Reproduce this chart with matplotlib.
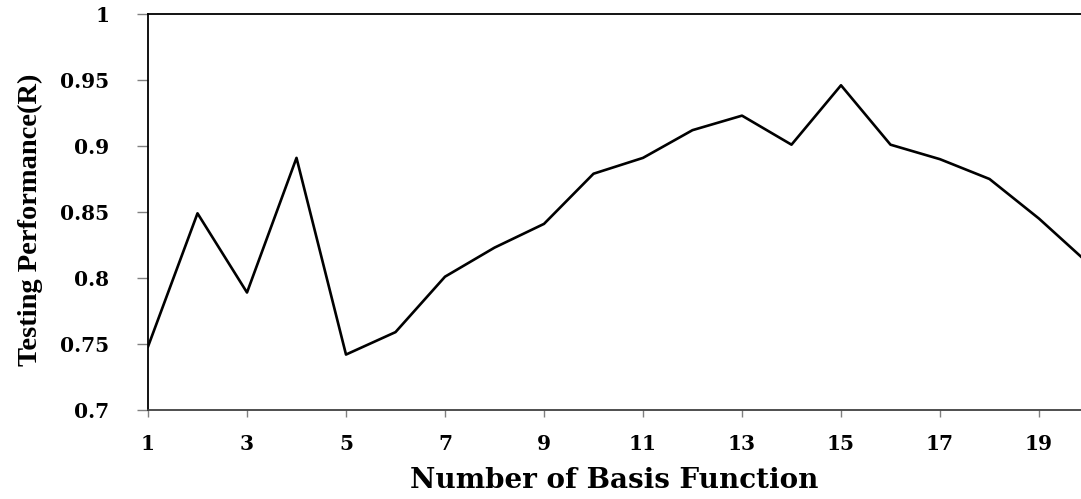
import matplotlib
matplotlib.use("Agg")
import matplotlib.pyplot as plt

# Testing performance (R) versus number of basis functions
basis_functions = list(range(1, 21))
performance_r = [0.748, 0.849, 0.789, 0.891, 0.742, 0.759, 0.801, 0.823, 0.841, 0.879,
                 0.891, 0.912, 0.923, 0.901, 0.946, 0.901, 0.890, 0.875, 0.845, 0.811]
x_ticks = [1, 3, 5, 7, 9, 11, 13, 15, 17, 19]
y_ticks = [0.7, 0.75, 0.8, 0.85, 0.9, 0.95, 1.0]
y_tick_labels = ["0.7", "0.75", "0.8", "0.85", "0.9", "0.95", "1"]

W, H = 1081, 499
plt.rcParams["font.family"] = ["DejaVu Serif"]
plt.rcParams["font.weight"] = "bold"

fig = plt.figure(figsize=(W / 100, H / 100), dpi=100)
ax = fig.add_axes([148 / W, 1 - 410 / H, 1 - 148 / W, (410 - 14) / H])

ax.plot(basis_functions, performance_r, color="black", linewidth=1.9)

ax.set_xlim(1, 1 + 933 / 49.5)
ax.set_ylim(0.7, 1.0)
ax.set_xticks(x_ticks)
ax.set_xticklabels([str(t) for t in x_ticks], fontsize=14.5, fontweight="bold")
ax.set_yticks(y_ticks)
ax.set_yticklabels(y_tick_labels, fontsize=14.5, fontweight="bold")

ax.tick_params(axis="x", direction="out", length=5, width=1, color="#808080", pad=12)
ax.tick_params(axis="y", direction="out", length=8, width=1, color="#808080", pad=20)

ax.spines["right"].set_visible(False)
ax.spines["left"].set_color("black")
ax.spines["top"].set_color("black")
ax.spines["bottom"].set_color("#404040")
for s in ("left", "top", "bottom"):
    ax.spines[s].set_linewidth(1.3)

fig.text(614 / W, 1 - 481 / H, "Number of Basis Function", fontsize=20,
         fontweight="bold", ha="center", va="center")
fig.text(30 / W, 1 - 220 / H, "Testing Performance(R)", fontsize=20.5,
         fontweight="bold", family="Liberation Serif", rotation=90,
         ha="center", va="center")

fig.savefig("out.png", dpi=100)
